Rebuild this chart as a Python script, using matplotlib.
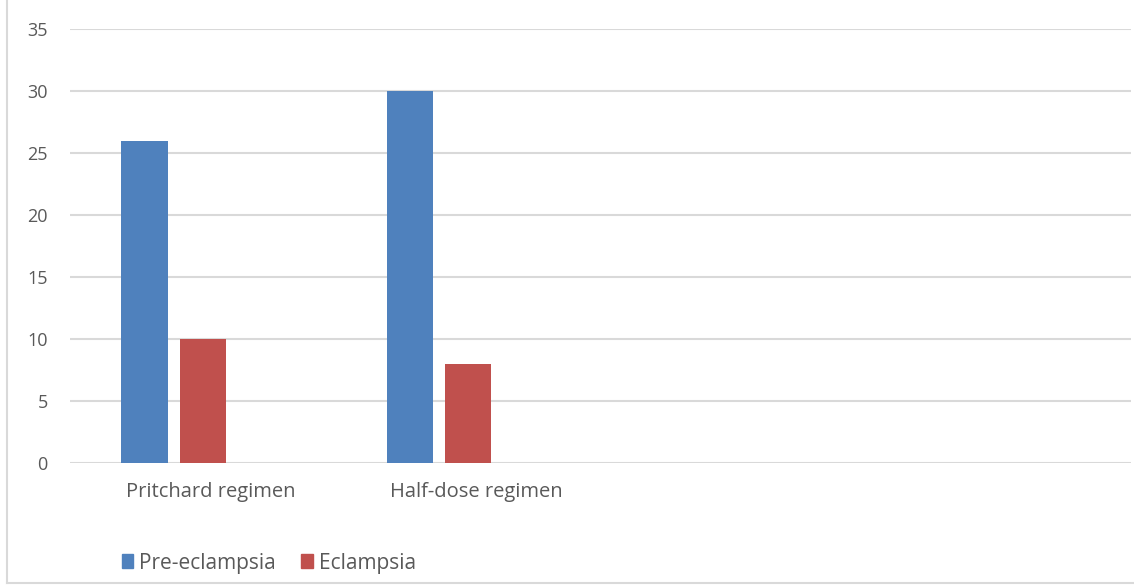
import matplotlib
matplotlib.use("Agg")
import matplotlib.pyplot as plt
from matplotlib.patches import Patch
from matplotlib.lines import Line2D
import numpy as np

categories = ["Pritchard regimen", "Half-dose regimen", "", ""]
pre_eclampsia = [26, 30]
eclampsia = [10, 8]
yticks = [0, 5, 10, 15, 20, 25, 30, 35]

blue = "#4F81BD"
red = "#C0504D"
txt = "#595959"
grid = "#D9D9D9"

plt.rcParams["font.family"] = ["Open Sans", "DejaVu Sans"]

fig = plt.figure(figsize=(11.34, 5.87), dpi=100)
ax = fig.add_axes([70/1134, 1-463/587, (1131-70)/1134, (463-29)/587])

x = np.arange(len(categories))
w = 0.174
step = 0.219
xp = np.arange(len(pre_eclampsia))
ax.bar(xp - step, pre_eclampsia, width=w, color=blue, label="Pre-eclampsia", zorder=3)
ax.bar(xp, eclampsia, width=w, color=red, label="Eclampsia", zorder=3)

ax.set_xlim(-0.5, len(categories) - 0.5)
ax.set_ylim(0, 35)
ax.set_yticks(yticks)
ax.set_yticklabels([str(v) for v in yticks])
ax.set_xticks(x + 0.03)
ax.set_xticklabels(categories, fontsize=14.5)
ax.tick_params(axis="both", length=0, labelsize=13, colors=txt)
ax.tick_params(axis="x", labelsize=14.5, pad=14)
ax.tick_params(axis="y", pad=16)
ax.grid(axis="y", color=grid, linewidth=1.5, zorder=0)
for s in ax.spines.values():
    s.set_visible(False)

leg = fig.legend(handles=[Patch(color=blue, label="Pre-eclampsia"),
                          Patch(color=red, label="Eclampsia")],
                 loc="center left", bbox_to_anchor=(103/1134, 1-563/587),
                 ncol=2, frameon=False, fontsize=15, handlelength=0.55,
                 handleheight=0.65, handletextpad=0.3, columnspacing=1.2)
for t in leg.get_texts():
    t.set_color(txt)

fig.add_artist(Line2D([7/1134, 7/1134], [1-583/587, 1], color=grid, linewidth=1.5))
fig.add_artist(Line2D([7/1134, 1], [1-583/587, 1-583/587], color=grid, linewidth=1.5))

fig.savefig("out.png", dpi=100)
